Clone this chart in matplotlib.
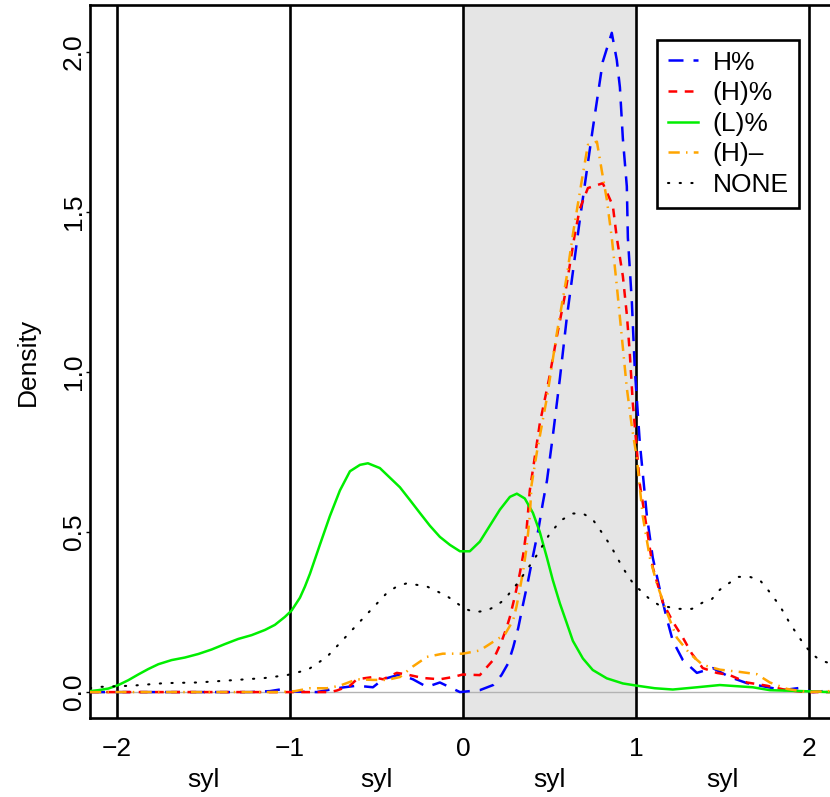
import numpy as np
import matplotlib
matplotlib.use('Agg')
import matplotlib.pyplot as plt
from matplotlib.lines import Line2D

plt.rcParams['font.family'] = ['Liberation Sans', 'DejaVu Sans']

# density curves (x in syllables, y = density)
h_pct_x = [-2.156, -1.231, -1.116, -1.058, -1.0, -0.844, -0.728, -0.613, -0.520, -0.462, -0.364,
           -0.289, -0.208, -0.133, -0.075, -0.017, 0.098, 0.175, 0.223, 0.262, 0.291, 0.320, 0.349,
           0.378, 0.407, 0.436, 0.462, 0.486, 0.520, 0.561, 0.601, 0.676, 0.751, 0.809, 0.861,
           0.890, 0.908, 0.925, 0.948, 0.954, 0.977, 0.994, 1.023, 1.064, 1.098, 1.139, 1.179,
           1.214, 1.272, 1.353, 1.445, 1.543, 1.642, 1.757, 1.850, 1.948, 2.023, 2.121]
h_pct_y = [0.0, 0.0, 0.003, 0.008, 0.002, 0.0, 0.012, 0.02, 0.015, 0.04, 0.055,
           0.04, 0.016, 0.03, 0.015, 0.0, 0.006, 0.022, 0.053, 0.09, 0.14, 0.20, 0.277,
           0.35, 0.43, 0.506, 0.59, 0.66, 0.80, 0.98, 1.17, 1.475, 1.76, 1.97, 2.06,
           1.975, 1.89, 1.73, 1.58, 1.42, 1.22, 1.01, 0.78, 0.55, 0.42, 0.32, 0.23,
           0.16, 0.10, 0.06, 0.075, 0.047, 0.028, 0.016, 0.006, 0.013, 0.0, 0.005]

hp_pct_x = [-2.156, -0.769, -0.728, -0.653, -0.613, -0.520, -0.462, -0.382, -0.324, -0.231, -0.133,
            -0.058, 0.0, 0.098, 0.175, 0.223, 0.252, 0.272, 0.301, 0.329, 0.349, 0.368, 0.378,
            0.387, 0.445, 0.497, 0.543, 0.590, 0.647, 0.676, 0.723, 0.809, 0.867, 0.890, 0.925,
            0.948, 0.965, 0.983, 1.023, 1.064, 1.098, 1.156, 1.214, 1.272, 1.324, 1.387, 1.468,
            1.543, 1.642, 1.757, 1.873, 1.988, 2.121]
hp_pct_y = [0.0, 0.0, 0.005, 0.02, 0.04, 0.047, 0.04, 0.06, 0.055, 0.044, 0.04,
            0.047, 0.055, 0.053, 0.10, 0.157, 0.20, 0.235, 0.30, 0.37, 0.43, 0.506, 0.57,
            0.63, 0.84, 0.975, 1.11, 1.24, 1.43, 1.51, 1.575, 1.59, 1.52, 1.42, 1.30,
            1.18, 1.06, 0.90, 0.65, 0.51, 0.39, 0.28, 0.22, 0.17, 0.12, 0.075, 0.06,
            0.053, 0.03, 0.02, 0.006, 0.0, 0.0]

lp_pct_x = [-2.156, -2.108, -2.050, -1.992, -1.935, -1.877, -1.819, -1.761, -1.684, -1.607, -1.530,
            -1.453, -1.376, -1.299, -1.221, -1.145, -1.087, -1.029, -0.990, -0.942, -0.913, -0.884,
            -0.827, -0.769, -0.711, -0.653, -0.595, -0.549, -0.480, -0.422, -0.364, -0.306, -0.249,
            -0.191, -0.133, -0.075, -0.017, 0.040, 0.098, 0.156, 0.214, 0.272, 0.312, 0.358, 0.405,
            0.445, 0.486, 0.520, 0.561, 0.601, 0.636, 0.694, 0.751, 0.832, 0.925, 1.006, 1.110,
            1.214, 1.353, 1.486, 1.676, 1.775, 1.965, 2.121]
lp_pct_y = [0.003, 0.006, 0.011, 0.022, 0.037, 0.055, 0.072, 0.087, 0.10, 0.108, 0.119,
            0.133, 0.15, 0.166, 0.178, 0.194, 0.21, 0.235, 0.255, 0.295, 0.33, 0.37,
            0.46, 0.55, 0.63, 0.69, 0.71, 0.715, 0.70, 0.67, 0.64, 0.60, 0.56,
            0.52, 0.485, 0.46, 0.44, 0.44, 0.47, 0.52, 0.57, 0.61, 0.62, 0.605, 0.56,
            0.50, 0.42, 0.35, 0.277, 0.215, 0.16, 0.105, 0.069, 0.043, 0.027, 0.02, 0.012,
            0.008, 0.015, 0.022, 0.015, 0.006, 0.003, 0.0]

hp_dash_x = [-2.156, -1.058, -0.971, -0.884, -0.786, -0.711, -0.613, -0.520, -0.439, -0.364, -0.289,
             -0.208, -0.116, 0.0, 0.098, 0.175, 0.243, 0.291, 0.310, 0.329, 0.349, 0.368, 0.387,
             0.397, 0.428, 0.486, 0.543, 0.601, 0.636, 0.688, 0.723, 0.775, 0.803, 0.832, 0.861,
             0.890, 0.919, 0.948, 0.977, 1.006, 1.040, 1.081, 1.121, 1.179, 1.237, 1.312, 1.387,
             1.486, 1.601, 1.699, 1.775, 1.873, 1.988, 2.121]
hp_dash_y = [0.0, 0.0, 0.003, 0.012, 0.012, 0.02, 0.04, 0.038, 0.038, 0.047, 0.08,
             0.11, 0.12, 0.12, 0.13, 0.157, 0.18, 0.225, 0.267, 0.32, 0.38, 0.45, 0.55,
             0.647, 0.75, 0.92, 1.12, 1.30, 1.43, 1.60, 1.71, 1.72, 1.63, 1.54, 1.42,
             1.27, 1.11, 0.95, 0.83, 0.73, 0.55, 0.42, 0.34, 0.25, 0.17, 0.12, 0.085,
             0.07, 0.063, 0.056, 0.03, 0.01, 0.0, 0.003]

none_x = [-2.156, -2.110, -1.913, -1.723, -1.532, -1.335, -1.145, -1.017, -0.896, -0.786, -0.699,
          -0.613, -0.526, -0.439, -0.382, -0.324, -0.208, -0.092, 0.012, 0.069, 0.137, 0.194, 0.243,
          0.285, 0.324, 0.358, 0.393, 0.430, 0.497, 0.537, 0.578, 0.636, 0.694, 0.750, 0.789,
          0.823, 0.858, 0.889, 0.919, 0.952, 0.988, 1.081, 1.139, 1.254, 1.324, 1.387, 1.439,
          1.486, 1.538, 1.595, 1.659, 1.717, 1.763, 1.832, 1.896, 1.971, 2.017, 2.064, 2.121]
none_y = [0.012, 0.016, 0.02, 0.028, 0.03, 0.037, 0.044, 0.053, 0.07, 0.11, 0.16,
          0.21, 0.26, 0.31, 0.33, 0.34, 0.33, 0.30, 0.26, 0.25, 0.254, 0.27, 0.29,
          0.32, 0.345, 0.373, 0.40, 0.43, 0.49, 0.517, 0.54, 0.558, 0.558, 0.54, 0.51,
          0.483, 0.454, 0.423, 0.394, 0.365, 0.337, 0.29, 0.27, 0.26, 0.26, 0.28, 0.29,
          0.32, 0.34, 0.36, 0.36, 0.35, 0.32, 0.27, 0.21, 0.15, 0.12, 0.10, 0.09]

syl_edges = [-2, -1, 0, 1, 2]
syl_centres = [-1.5, -0.5, 0.5, 1.5]
y_ticks = [0.0, 0.5, 1.0, 1.5, 2.0]
legend_labels = ['H%', '(H)%', '(L)%', '(H)\u2013', 'NONE']

fig = plt.figure(figsize=(8.30, 7.97), dpi=100)
ax = fig.add_axes([90 / 830, 79 / 797, 762 / 830, 713 / 797])
ax.set_xlim(-2.156, 2.25)
ax.set_ylim(-0.081, 2.147)

# shaded syllable and syllable boundaries
ax.axvspan(0, 1, color='#e5e5e5', zorder=0)
ax.axhline(0, color='#b3b3b3', lw=1, zorder=1)
for e in syl_edges:
    ax.axvline(e, color='black', lw=1.9, zorder=2)

lw = 1.8
ax.plot(h_pct_x, h_pct_y, color='blue', lw=lw, ls=(0, (6, 4)), zorder=3)
ax.plot(hp_pct_x, hp_pct_y, color='red', lw=lw, ls=(0, (3.5, 3)), zorder=3)
ax.plot(lp_pct_x, lp_pct_y, color='#00ee00', lw=lw, zorder=3)
ax.plot(hp_dash_x, hp_dash_y, color='orange', lw=lw, ls=(0, (4.5, 2.5, 0.6, 2.5)), zorder=3)
ax.plot(none_x, none_y, color='black', lw=1.5, ls=(0, (0.6, 5)),
        dash_capstyle='round', zorder=3)

for s in ax.spines.values():
    s.set_linewidth(1.9)
ax.spines['right'].set_visible(False)

ax.set_xticks(syl_edges)
ax.set_xticklabels(['\u22122', '\u22121', '0', '1', '2'], fontsize=19)
ax.tick_params(axis='x', length=0, pad=14)
ax.set_yticks(y_ticks)
ax.set_yticklabels([f'{v:.1f}' for v in y_ticks], fontsize=19, rotation=90, va='center')
ax.tick_params(axis='y', length=3, width=1, pad=0)
ax.set_ylabel('Density', fontsize=19, labelpad=16)

for c in syl_centres:
    ax.text(c, -0.275, 'syl', fontsize=19, ha='center', va='center',
            transform=ax.transData, clip_on=False)

handles = [
    Line2D([], [], color='blue', lw=lw, ls=(0, (6, 4))),
    Line2D([], [], color='red', lw=lw, ls=(0, (3.5, 3))),
    Line2D([], [], color='#00ee00', lw=lw),
    Line2D([], [], color='orange', lw=lw, ls=(0, (4.5, 2.5, 0.6, 2.5))),
    Line2D([], [], color='black', lw=1.5, ls=(0, (0.6, 5)), dash_capstyle='round'),
]
leg = ax.legend(handles, legend_labels, loc='upper left', bbox_to_anchor=(567 / 762, 1 - 35 / 713),
                fontsize=19, frameon=True, fancybox=False, framealpha=1, edgecolor='black',
                handlelength=1.15, handletextpad=0.55, labelspacing=0.25, borderpad=0.4,
                borderaxespad=0)
leg.get_frame().set_linewidth(1.9)

fig.savefig('out.png', dpi=100)
